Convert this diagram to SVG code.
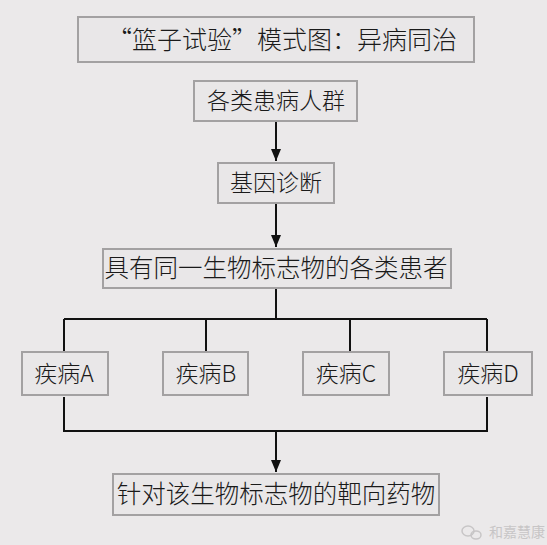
<svg xmlns="http://www.w3.org/2000/svg" width="547" height="545" viewBox="0 0 547 545">
<style>
.box{fill:#e9e7e8;stroke:#a3a1a2;stroke-width:2}
.t{font-family:"Noto Sans CJK SC","Noto Sans",sans-serif;font-weight:300;fill:#1a1a1a;text-anchor:middle}
.ln{fill:none;stroke:#111;stroke-width:2}
.wm{font-family:"Noto Sans CJK SC",sans-serif;fill:#c4c2c3;font-size:14px}
</style>
<defs>
<marker id="arr" viewBox="0 0 12 10" refX="12" refY="5" markerWidth="12" markerHeight="10" markerUnits="userSpaceOnUse" orient="auto">
<path d="M0,0 L12,5 L0,10 Z" fill="#111"/>
</marker>
</defs>
<rect width="547" height="545" fill="#ebe9ea"/>
<g id="title">
<rect class="box" x="78" y="17" width="396" height="45"/>
<text class="t" x="282" y="49" font-size="25">“篮子试验”模式图：异病同治</text>
</g>
<g id="n1">
<rect class="box" x="194" y="81" width="163" height="40"/>
<text class="t" x="276" y="109" font-size="23">各类患病人群</text>
</g>
<g id="n2">
<rect class="box" x="218" y="163" width="116" height="40"/>
<text class="t" x="276" y="191" font-size="23">基因诊断</text>
</g>
<g id="n3">
<rect class="box" x="103" y="249" width="348" height="39"/>
<text class="t" x="276" y="277" font-size="24.5">具有同一生物标志物的各类患者</text>
</g>
<g id="dA">
<rect class="box" x="22" y="352" width="86" height="43"/>
<text class="t" x="64" y="382" font-size="23">疾病A</text>
</g>
<g id="dB">
<rect class="box" x="163" y="352" width="85" height="43"/>
<text class="t" x="206" y="382" font-size="23">疾病B</text>
</g>
<g id="dC">
<rect class="box" x="303" y="352" width="86" height="43"/>
<text class="t" x="346" y="382" font-size="23">疾病C</text>
</g>
<g id="dD">
<rect class="box" x="444" y="352" width="88" height="43"/>
<text class="t" x="488" y="382" font-size="23">疾病D</text>
</g>
<g id="n4">
<rect class="box" x="113" y="474" width="326" height="41"/>
<text class="t" x="276" y="503" font-size="24.5">针对该生物标志物的靶向药物</text>
</g>
<g id="connectors">
<line class="ln" x1="276" y1="122" x2="276" y2="161" marker-end="url(#arr)"/>
<line class="ln" x1="276" y1="204" x2="276" y2="247" marker-end="url(#arr)"/>
<path class="ln" d="M276,289 V319 M64,319 H487 M64,319 V351 M206,319 V351 M350,319 V351 M487,319 V351"/>
<path class="ln" d="M64,397 V431 H487 V397"/>
<line class="ln" x1="276" y1="431" x2="276" y2="472" marker-end="url(#arr)"/>
</g>
<g id="watermark" opacity="0.9">
<ellipse cx="468" cy="531" rx="6" ry="5" fill="none" stroke="#c4c2c3" stroke-width="1.5"/>
<ellipse cx="476" cy="535" rx="5" ry="4" fill="none" stroke="#c4c2c3" stroke-width="1.5"/>
<text class="wm" x="489" y="537">和嘉慧康</text>
</g>
</svg>
